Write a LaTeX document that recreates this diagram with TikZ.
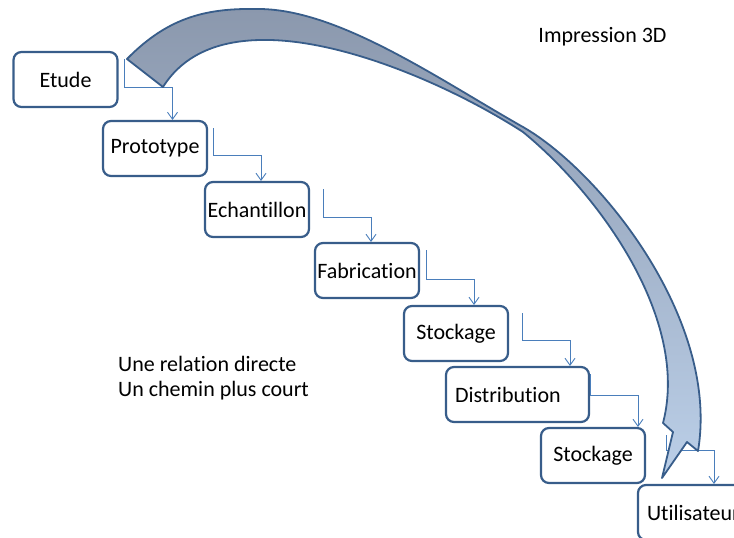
\documentclass[tikz,border=0pt]{standalone}
\usepackage{fontspec}
\setmainfont{Carlito}[Ligatures=NoCommon]
\usetikzlibrary{arrows.meta,positioning}
\definecolor{boxline}{HTML}{385D8A}
\definecolor{linkblue}{HTML}{4A7EBB}
\definecolor{arrowtop}{HTML}{8B98AD}
\definecolor{arrowmid}{HTML}{B2C5DF}
\definecolor{arrowlow}{HTML}{BBCFE8}
\tikzset{
    %Define standard arrow tip
    >={Straight Barb[length=7pt,width=10pt]},
    %Define style for boxes
    stage/.style={
      rectangle,
      rounded corners=8pt,
      draw=boxline, line width=2.2pt,
      fill=white,
      minimum width=104pt,
      minimum height=55pt,
      inner xsep=2pt, inner ysep=4pt,
      outer sep=0pt,
      text centered},
    % Define arrow style
    link/.style={
      ->,
      draw=linkblue,
      line width=0.9pt,
      shorten >=1pt,},
    % Define style for the big curved arrow
    bigarrow/.style={
      draw=boxline,
      line width=1.8pt,
      line join=round,
      top color=arrowtop,
      middle color=arrowmid,
      bottom color=arrowlow},
    note/.style={
      inner sep=0pt,
      align=left}
}
\begin{document}
\begin{tikzpicture}[x=1pt, y=-1pt, font=\fontsize{22}{25}\selectfont]
    \useasboundingbox (0,0) rectangle (734,538);
    \node[stage] (etude) at (65.5,79.5) {Etude};
    \node[stage, below right=14pt and -14.5pt of etude] (proto) {Prototype};
    \node[stage, below right=6pt and -2pt of proto] (echan) {Echantillon};
    \node[stage, below right=6pt and 6pt of echan] (fabri) {Fabrication};
    \node[stage, below right=8pt and -15pt of fabri] (stock) {Stockage};
    \node[stage, below right=6pt and -62pt of stock, text width=125pt,
      align=left, inner xsep=9pt] (distr) {Distribution};
    \node[stage, below right=6pt and -48pt of distr] (stockb) {Stockage};
    \node[stage, below right=2pt and -7pt of stockb, inner xsep=9pt] (user) {Utilisateur};
    % steps of the chain
    \foreach \from/\to/\dx/\dy in {etude/proto/7/35, proto/echan/6/34,
      echan/fabri/14/35, fabri/stock/7/36, stock/distr/14/34,
      distr/stockb/1/28, stockb/user/21/22} {
      \coordinate (elbow) at ([shift={(\dx+48,\dy)}]\from.north east);
      \draw[link] ([shift={(\dx,7)}]\from.north east) |- (elbow) -- (elbow |- \to.north);
    }
    \node[note, anchor=west] (short) at (118,378.5) {Une relation directe\\Un chemin plus court};
    \node[note] (print) at (602.5,37) {Impression 3D};
    % the direct way
    \draw[bigarrow] (127,59) .. controls (170,15) and (210,8) .. (260,9)
      .. controls (340,10) and (440,80) .. (523,127)
      .. controls (600,171) and (720,320) .. (698,451)
      -- (687,442) -- (662,478) -- (673,432) -- (663,423)
      .. controls (690,320) and (600,195) .. (523,132)
      .. controls (450,85) and (340,38) .. (260,40)
      .. controls (210,41) and (180,60) .. (163,87) -- cycle;
\end{tikzpicture}
\end{document}
